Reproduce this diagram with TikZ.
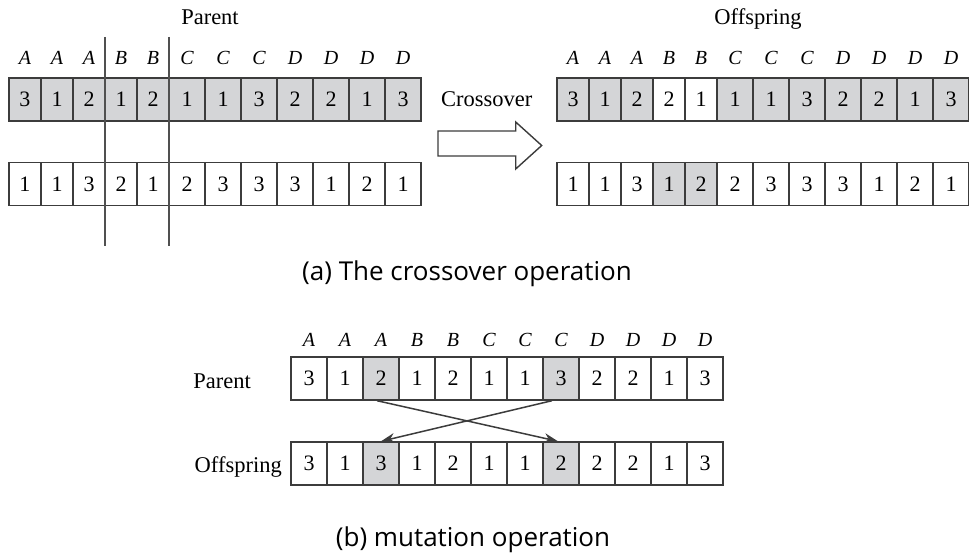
\documentclass[tikz,border=0pt]{standalone}
\usepackage{fontspec}
\setmainfont{Liberation Serif}
\newfontfamily\capfont{Open Sans}
\usetikzlibrary{arrows.meta, positioning, calc}
\definecolor{cellgray}{HTML}{D4D5D7}
\definecolor{linegray}{HTML}{3C3C3C}
\definecolor{cutgray}{HTML}{505050}
\tikzset{
  cell/.style={draw=linegray, line width=1.4pt, minimum height=43pt, inner sep=0pt, font=\fontsize{22}{22}\selectfont},
  locus/.style={font=\fontsize{20}{20}\selectfont\itshape, inner sep=0pt, anchor=base},
  rowtitle/.style={font=\fontsize{22.5}{22.5}\selectfont, inner sep=0pt, anchor=base},
  caption/.style={font=\capfont\fontsize{26}{26}\selectfont, inner sep=0pt, anchor=base},
  cutline/.style={cutgray, line width=1.6pt},
  swaparrow/.style={-{Stealth[length=14pt,width=10pt]}, line width=1.5pt, linegray}
}
% a row of 12 genes: name, left x, centre y, width of first five, width of the rest, value/fill
\newcommand{\generow}[6]{%
  \foreach \v/\f [count=\i] in {#6} {
    \pgfmathsetmacro{\w}{\i<6 ? #4 : #5}
    \pgfmathsetmacro{\cx}{#2 + (\i<6 ? (\i-0.5)*#4 : 5*#4+(\i-5.5)*#5)}
    \node[cell, fill=\f, minimum width=\w pt] (#1-\i) at (\cx,#3) {\v};
  }%
}
% the locus letters over a row
\newcommand{\locusrow}[2]{%
  \foreach \l [count=\i] in {A,A,A,B,B,C,C,C,D,D,D,D} {
    \node[locus] (#1-l\i) at ([yshift=#2pt]#1-\i.center) {\l};
  }%
}

\begin{document}
\begin{tikzpicture}[x=1pt, y=-1pt]
  \useasboundingbox (0,0) rectangle (969,556);

  % (a) parents
  \generow{pa}{9}{99.5}{32}{36}{3/cellgray,1/cellgray,2/cellgray,1/cellgray,2/cellgray,1/cellgray,1/cellgray,3/cellgray,2/cellgray,2/cellgray,1/cellgray,3/cellgray}
  \generow{pb}{9}{184}{32}{36}{1/white,1/white,3/white,2/white,1/white,2/white,3/white,3/white,3/white,1/white,2/white,1/white}
  \locusrow{pa}{34.5}
  \node[rowtitle] (parent) at (210,25) {Parent};
  \coordinate (cut1top) at (105,37);
  \coordinate (cut1bot) at (105,246);
  \coordinate (cut2top) at (169,37);
  \coordinate (cut2bot) at (169,246);
  \draw[cutline] (cut1top) -- (cut1bot);
  \draw[cutline] (cut2top) -- (cut2bot);

  % crossover arrow
  \node[rowtitle] (crossover) at (486.7,106.7) {Crossover};
  \draw[linegray, line width=1.4pt, fill=white] (438,131) -- (515.7,131) -- (515.7,122)
    -- (541.7,145.5) -- (515.7,169) -- (515.7,156) -- (438,156) -- cycle;

  % (a) offspring
  \generow{oa}{557}{99.5}{32}{36}{3/cellgray,1/cellgray,2/cellgray,2/white,1/white,1/cellgray,1/cellgray,3/cellgray,2/cellgray,2/cellgray,1/cellgray,3/cellgray}
  \generow{ob}{557}{184}{32}{36}{1/white,1/white,3/white,1/cellgray,2/cellgray,2/white,3/white,3/white,3/white,1/white,2/white,1/white}
  \locusrow{oa}{34.5}
  \node[rowtitle] (offspring) at (758,25) {Offspring};

  \node[caption] (capa) at (467,280) {(a) The crossover operation};

  % (b) mutation
  \generow{ma}{291}{378.5}{36}{36}{3/white,1/white,2/cellgray,1/white,2/white,1/white,1/white,3/cellgray,2/white,2/white,1/white,3/white}
  \generow{mb}{291}{463.5}{36}{36}{3/white,1/white,3/cellgray,1/white,2/white,1/white,1/white,2/cellgray,2/white,2/white,1/white,3/white}
  \locusrow{ma}{32.5}
  \node[rowtitle, anchor=base east] (mparent) at (251,388) {Parent};
  \node[rowtitle, anchor=base east] (moffspring) at (282,472) {Offspring};
  \draw[swaparrow] ([xshift=-4pt]ma-3.south) -- ([xshift=-3pt]mb-8.north);
  \draw[swaparrow] ([xshift=-9pt]ma-8.south) -- (mb-3.north);

  \node[caption] (capb) at (473,546) {(b) mutation operation};
\end{tikzpicture}
\end{document}
